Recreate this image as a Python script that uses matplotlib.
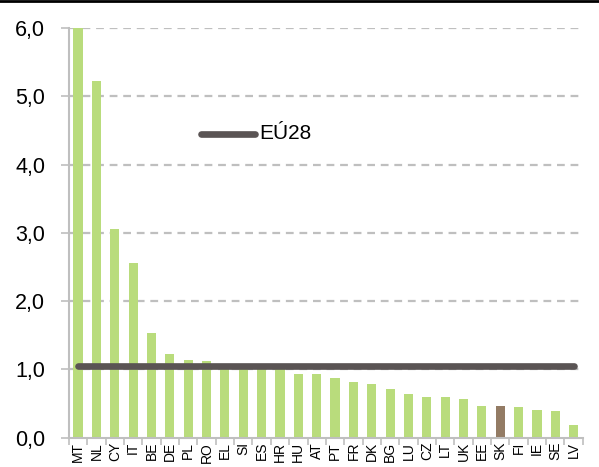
import numpy as np
import matplotlib
matplotlib.use("Agg")
import matplotlib.pyplot as plt
from matplotlib.lines import Line2D

countries = ["MT", "NL", "CY", "IT", "BE", "DE", "PL", "RO", "EL", "SI", "ES", "HR", "HU", "AT",
             "PT", "FR", "DK", "BG", "LU", "CZ", "LT", "UK", "EE", "SK", "FI", "IE", "SE", "LV"]
values = [6.0, 5.22, 3.05, 2.56, 1.54, 1.22, 1.14, 1.13, 1.03, 1.02, 1.02, 1.01, 0.94, 0.93,
          0.87, 0.81, 0.79, 0.71, 0.64, 0.60, 0.59, 0.56, 0.46, 0.46, 0.45, 0.40, 0.39, 0.19]
eu28 = 1.05
highlight = "SK"

plt.rcParams['font.family'] = ['Liberation Sans', 'DejaVu Sans']

green = "#b9dc7c"
brown = "#937b64"
dark = "#5a5454"
grey = "#bfbfbf"

fig = plt.figure(figsize=(5.99, 4.67), dpi=100)
ax = fig.add_axes([0.115, 0.0627, 0.858, 0.8773])

x = np.arange(len(countries))
colors = [brown if c == highlight else green for c in countries]
ax.bar(x, values, width=0.5, color=colors, zorder=2)

# EU28 average line
ax.plot([x[0], x[-1]], [eu28, eu28], color=dark, lw=4.8, solid_capstyle="round", zorder=3)

ax.set_xlim(-0.5, len(countries) - 0.5)
ax.set_ylim(0, 6)
ax.set_yticks(np.arange(0, 7, 1))
ax.set_yticklabels([f"{v:.1f}".replace(".", ",") for v in np.arange(0, 7, 1)], fontsize=15.5)
ax.set_xticks(x)
ax.set_xticklabels(countries, rotation=90, fontsize=10)
ax.tick_params(axis="x", which="major", length=0, pad=3)
ax.set_xticks(np.arange(-0.5, len(countries), 1), minor=True)
ax.tick_params(axis="x", which="minor", length=5, color=grey, width=1.2)
ax.tick_params(axis="y", length=6, color=grey, width=1.2, pad=11)

for v in range(1, 7):
    ax.axhline(v, color=grey, lw=1.6, dashes=(3.5, 2.6), zorder=1)

for s in ["top", "right"]:
    ax.spines[s].set_visible(False)
for s in ["left", "bottom"]:
    ax.spines[s].set_color(grey)
    ax.spines[s].set_linewidth(1.5)

# legend drawn by hand
leg_y = 4.45
ax.plot([6.7, 9.65], [leg_y, leg_y], color=dark, lw=4.8, solid_capstyle="round",
        clip_on=False)
ax.text(9.85, leg_y, "EÚ28", fontsize=15, va="center", ha="left")

# black line at top of figure
fig.add_artist(Line2D([0, 1], [0.998, 0.998], color="black", lw=2, transform=fig.transFigure))

fig.savefig("out.png", dpi=100)
